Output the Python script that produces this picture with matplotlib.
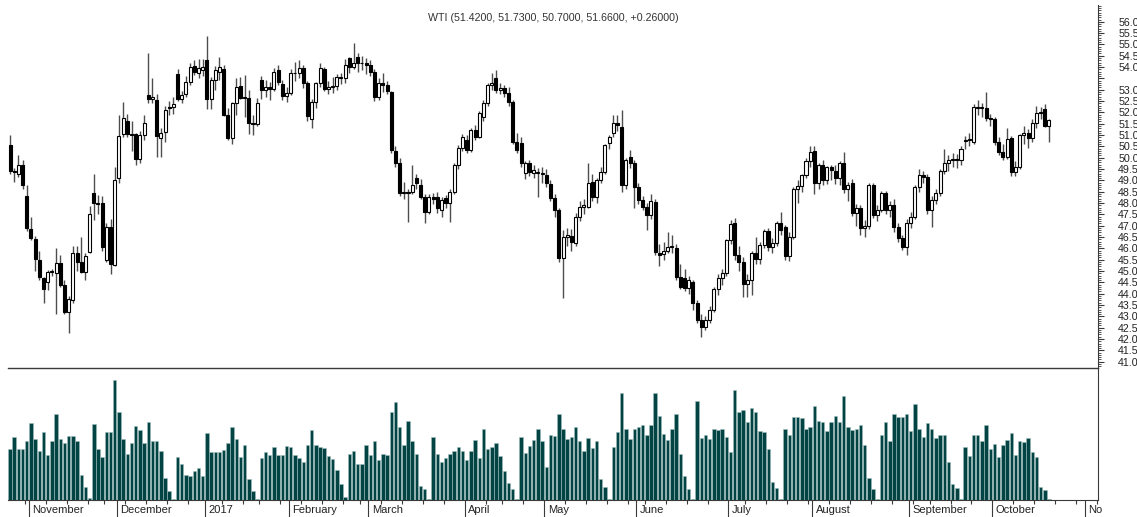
import matplotlib
matplotlib.use("Agg")

import matplotlib.pyplot as plt  # noqa: E402
import matplotlib.transforms as mtransforms  # noqa: E402
import numpy as np  # noqa: E402
import pandas as pd  # noqa: E402

plt.rcParams["font.family"] = ["Liberation Sans", "DejaVu Sans"]

# ---------------------------------------------------------------------------
# trading calendar (NYMEX holidays are skipped on the axis)
# ---------------------------------------------------------------------------
START = "2016-10-25"
AXIS_END = "2017-11-30"
HOLIDAYS = ["2016-11-24", "2016-12-26", "2017-01-02", "2017-01-16", "2017-02-20",
            "2017-04-14", "2017-05-29", "2017-07-04", "2017-09-04"]

# the last month label is cut by the chart edge in the original
month_labels = ["November", "December", "2017", "February", "March", "April", "May",
                "June", "July", "August", "September", "October", "No"]

# ---------------------------------------------------------------------------
# daily OHLC, Oct 25 2016 .. Oct 19 2017 (one row per line = one month)
# ---------------------------------------------------------------------------
opens = [
    50.55, 49.40, 49.30, 49.70, 48.30,
    46.85, 46.40, 45.50, 44.70, 44.50, 44.95, 44.90, 45.35, 44.40, 43.20, 43.70, 45.80, 45.40, 44.95, 45.85, 48.45, 48.00, 48.00, 45.50, 46.95, 45.25,
    49.10, 51.05, 51.60, 51.05, 51.05, 49.95, 51.00, 52.75, 52.60, 52.55, 50.85, 51.15, 52.25, 52.25, 53.70, 52.60, 52.80, 53.35, 54.05, 53.75, 53.85,
    54.30, 52.60, 53.45, 53.80, 53.90, 51.90, 50.85, 52.40, 53.15, 52.70, 52.62, 51.50, 51.50, 53.43, 52.99, 53.10, 53.02, 53.87, 53.25, 52.72,
    52.84, 53.72, 53.75, 53.94, 53.28, 51.69, 52.47, 53.28, 53.90, 53.02, 53.10, 53.15, 53.57, 53.50, 54.38, 54.02, 54.43, 54.16, 54.18,
    54.09, 53.80, 52.69, 53.31, 53.20, 52.90, 50.31, 49.75, 48.46, 48.50, 48.50, 49.09, 48.80, 48.28, 47.62, 48.28, 48.25, 47.69, 48.21, 47.99, 48.50, 49.68, 50.41,
    50.78, 50.34, 51.22, 50.93, 51.81, 52.40, 53.20, 53.50, 52.99, 53.06, 52.87, 52.47, 50.71, 50.63, 49.31, 49.75, 49.31, 49.31, 49.28,
    49.24, 48.84, 48.21, 47.69, 45.56, 46.52, 46.56, 46.22, 47.40, 47.84, 47.84, 48.94, 48.28, 49.02, 49.38, 50.63, 51.08, 51.52, 51.37, 48.80, 50.05, 49.75,
    48.69, 48.13, 47.84, 47.47, 48.06, 45.80, 45.75, 45.90, 46.07, 46.00, 44.75, 44.70, 44.24, 44.50, 43.60, 42.84, 42.55, 42.85, 43.30, 44.20, 44.70, 44.90,
    46.37, 47.10, 45.71, 45.40, 44.43, 44.60, 45.81, 45.52, 46.15, 46.78, 46.08, 46.25, 47.13, 46.95, 45.67, 46.52, 48.60, 48.75, 49.24, 49.87,
    50.31, 48.90, 49.68, 49.00, 49.58, 49.42, 49.09, 49.75, 48.60, 48.87, 47.58, 47.77, 46.89, 46.99, 48.80, 47.47, 47.69, 48.43, 47.69, 47.90, 46.96, 46.45, 46.08,
    47.13, 47.40, 48.70, 49.24, 49.17, 47.69, 48.14, 48.43, 49.43, 49.75, 49.90, 49.96, 49.92, 50.75, 50.78, 50.71, 52.21, 52.18, 52.18, 51.74,
    51.72, 50.71, 50.27, 50.05, 50.86, 49.39, 49.61, 51.00, 51.08, 50.86, 51.52, 51.96, 52.14, 51.42,
]
highs = [
    51.00, 49.55, 50.10, 49.90, 48.80,
    47.40, 46.55, 45.90, 44.75, 45.05, 45.10, 46.00, 45.70, 44.60, 43.90, 46.10, 46.10, 46.50, 45.80, 47.85, 49.30, 48.35, 48.30, 47.10, 47.30, 49.60,
    51.90, 52.45, 51.95, 51.60, 51.10, 51.20, 51.90, 54.60, 53.50, 52.80, 51.30, 52.30, 52.50, 52.70, 53.90, 52.95, 53.60, 54.20, 54.30, 54.35, 54.35,
    55.35, 53.55, 54.05, 54.45, 54.10, 52.20, 52.45, 53.50, 53.55, 53.65, 53.00, 51.90, 52.65, 53.60, 53.45, 53.35, 53.95, 54.10, 53.45, 53.10,
    53.90, 54.24, 54.30, 54.10, 53.40, 52.60, 53.35, 54.20, 54.00, 53.40, 53.55, 53.70, 53.75, 54.35, 54.45, 55.05, 54.60, 54.50, 54.40,
    54.30, 53.90, 53.50, 53.75, 53.40, 52.95, 50.50, 50.00, 48.95, 48.60, 49.67, 49.30, 49.05, 48.40, 48.40, 48.45, 48.50, 48.25, 48.35, 48.60, 49.75, 50.55, 51.05,
    51.00, 51.30, 51.45, 52.05, 52.55, 53.30, 53.76, 53.87, 53.30, 53.20, 53.10, 52.55, 51.10, 50.90, 49.85, 49.90, 49.70, 49.55, 49.60,
    49.50, 49.00, 48.40, 47.80, 46.80, 46.90, 46.85, 47.55, 48.10, 48.20, 49.75, 49.30, 49.10, 49.60, 50.60, 51.00, 51.90, 51.90, 52.10, 50.00, 50.35, 49.90,
    48.90, 48.30, 48.00, 48.40, 48.20, 46.20, 46.30, 46.74, 46.60, 46.20, 45.30, 45.10, 44.80, 44.60, 43.70, 43.10, 43.00, 43.45, 44.30, 44.85, 45.10, 46.40,
    47.25, 47.35, 46.10, 45.60, 44.85, 45.90, 46.50, 46.30, 46.85, 46.90, 46.45, 47.20, 47.60, 47.05, 46.70, 48.70, 49.00, 49.30, 50.00, 50.50,
    50.50, 49.75, 49.90, 49.65, 49.70, 49.70, 49.85, 50.25, 48.95, 49.05, 47.95, 47.90, 47.25, 48.90, 48.90, 47.90, 48.55, 48.55, 48.10, 48.20, 47.10, 46.60, 47.30,
    47.60, 48.80, 49.50, 49.40, 49.30, 48.30, 48.60, 49.50, 50.40, 50.10, 50.20, 50.15, 50.50, 50.95, 51.10, 52.35, 52.55, 52.40, 52.92, 51.95,
    51.80, 50.90, 50.60, 51.30, 50.95, 49.85, 51.05, 51.40, 51.25, 51.70, 52.30, 52.25, 52.35, 51.73,
]
lows = [
    49.30, 48.95, 49.15, 48.60, 46.75,
    46.35, 45.00, 44.60, 43.60, 44.15, 44.80, 43.10, 44.30, 43.10, 42.25, 43.60, 45.00, 44.90, 44.60, 45.80, 47.25, 47.50, 45.90, 45.40, 44.85, 45.20,
    48.90, 50.90, 50.90, 50.30, 49.70, 49.75, 50.80, 52.40, 52.40, 50.05, 50.05, 50.70, 51.90, 51.95, 52.50, 52.40, 52.70, 53.20, 53.65, 53.50, 53.60,
    52.15, 52.15, 53.00, 53.45, 51.85, 50.80, 50.60, 51.90, 52.60, 51.80, 51.05, 51.00, 51.40, 52.60, 52.70, 52.55, 52.95, 53.20, 52.55, 52.45,
    52.75, 53.40, 53.50, 53.06, 51.60, 51.30, 52.20, 53.10, 52.95, 52.80, 52.85, 53.00, 53.25, 53.30, 53.75, 53.90, 53.80, 53.85, 53.70,
    53.60, 52.50, 52.55, 52.90, 52.80, 50.20, 49.60, 48.30, 48.20, 47.18, 48.40, 48.60, 48.20, 47.10, 47.50, 47.95, 47.55, 47.40, 47.80, 47.15, 48.40, 49.50, 50.30,
    50.20, 50.25, 50.80, 50.85, 51.60, 52.30, 53.00, 52.85, 52.80, 52.70, 52.30, 50.60, 50.20, 49.60, 49.05, 49.20, 49.10, 48.28, 48.90,
    48.70, 48.10, 47.40, 45.40, 43.80, 46.10, 45.90, 46.10, 47.20, 47.50, 47.80, 48.10, 48.00, 48.90, 49.30, 50.40, 50.90, 51.20, 48.50, 48.60, 49.55, 47.80,
    47.95, 47.70, 46.81, 47.30, 45.70, 45.20, 45.50, 45.80, 45.80, 44.60, 44.20, 44.10, 44.00, 43.30, 42.70, 42.10, 42.40, 42.70, 43.20, 43.95, 44.40, 44.80,
    46.20, 45.50, 45.00, 43.87, 43.87, 43.95, 45.30, 45.30, 46.00, 45.90, 45.80, 46.10, 46.60, 45.50, 45.45, 46.40, 48.00, 48.50, 49.10, 49.60,
    48.40, 48.60, 48.80, 48.85, 49.00, 48.85, 48.80, 48.45, 48.10, 47.45, 47.00, 46.60, 46.50, 46.85, 47.35, 47.20, 47.60, 47.50, 47.40, 46.70, 46.30, 45.93, 45.70,
    46.90, 47.30, 48.50, 48.90, 47.50, 46.95, 47.95, 48.30, 49.30, 49.40, 49.60, 49.55, 49.70, 50.40, 50.50, 50.60, 51.90, 51.80, 51.60, 51.40,
    50.55, 50.10, 49.90, 49.95, 49.20, 49.20, 49.50, 50.60, 50.45, 50.70, 51.30, 51.70, 51.35, 50.70,
]
closes = [
    49.40, 49.35, 49.70, 48.80, 46.90,
    46.45, 45.55, 44.75, 44.20, 44.95, 45.00, 45.35, 44.40, 43.20, 43.75, 45.80, 45.40, 44.95, 45.65, 47.50, 48.00, 47.95, 46.05, 46.95, 45.30, 49.00,
    50.95, 51.75, 51.05, 51.00, 49.95, 51.00, 51.55, 52.60, 52.70, 50.95, 51.10, 52.10, 52.20, 52.35, 52.60, 52.75, 53.35, 54.00, 53.80, 53.95, 54.00,
    52.60, 53.45, 53.85, 54.00, 51.90, 50.85, 52.40, 53.10, 52.65, 52.62, 51.52, 51.55, 52.43, 52.99, 53.13, 53.02, 53.80, 53.35, 52.72, 52.87,
    53.72, 53.75, 53.94, 53.28, 51.84, 52.47, 53.28, 53.94, 53.02, 53.10, 53.15, 53.57, 53.50, 54.09, 54.02, 54.16, 54.16, 54.18, 54.09,
    53.80, 52.69, 53.31, 53.20, 52.95, 50.34, 49.75, 48.46, 48.50, 48.45, 48.80, 48.87, 48.28, 47.62, 48.28, 48.20, 47.77, 48.13, 47.99, 48.50, 49.68, 50.41, 50.93,
    50.34, 51.22, 50.93, 51.96, 52.40, 53.21, 53.28, 52.99, 53.06, 52.87, 52.47, 50.71, 50.34, 49.75, 49.75, 49.38, 49.46, 49.31, 49.33,
    48.87, 48.21, 47.69, 45.56, 46.52, 46.60, 46.30, 47.40, 47.84, 47.91, 48.87, 48.28, 49.02, 49.38, 50.56, 50.93, 51.52, 51.45, 48.80, 49.90, 49.75, 48.72,
    48.13, 47.84, 47.47, 48.10, 45.85, 45.70, 45.90, 46.07, 46.05, 44.75, 44.31, 44.24, 44.60, 43.60, 42.84, 42.55, 42.85, 43.30, 44.20, 44.70, 44.90, 46.37,
    47.06, 45.71, 45.40, 44.43, 44.60, 45.81, 45.52, 46.15, 46.78, 46.08, 46.25, 47.13, 46.81, 45.67, 46.52, 48.60, 48.75, 49.24, 49.87, 50.27,
    48.90, 49.68, 49.00, 49.58, 49.46, 49.09, 49.75, 48.60, 48.80, 47.58, 47.77, 46.89, 46.99, 48.80, 47.47, 47.69, 48.43, 47.69, 47.90, 46.96, 46.45, 46.08, 47.13,
    47.40, 48.70, 49.24, 49.17, 47.69, 48.14, 48.43, 49.43, 49.75, 49.90, 49.94, 49.92, 50.37, 50.78, 50.80, 52.22, 52.21, 52.22, 51.74, 51.70,
    50.71, 50.27, 50.05, 50.81, 49.39, 49.60, 51.00, 51.08, 50.86, 51.52, 51.96, 52.03, 51.40, 51.66,
]
# front-month volume, relative units (0..100 = panel height)
volumes = [
    38.5, 47.5, 38.5, 38.5, 45,
    58, 46, 37, 51.5, 34, 45, 65, 46, 43.5, 48.5, 48.5, 44.5, 19, 10, 1.5, 57.5, 39, 32.5, 51.5, 51.5, 91,
    67, 46, 35, 43, 56, 53, 43.5, 59, 44.5, 44.5, 37, 17, 7, 0.5, 32.5, 27, 19, 18.5, 22, 24, 18.5,
    51, 36, 36.5, 36, 38, 43, 55.5, 46, 32.5, 41.5, 16, 7, 1, 32, 36.5, 34, 40, 34, 34, 41,
    40, 34, 32, 29, 42, 53, 41.5, 40, 39.5, 33, 31, 23, 12.5, 2, 35, 37, 27, 27, 42,
    34, 45, 30.5, 35, 34, 67, 74.5, 55, 42, 59.5, 44.5, 35, 10.5, 8.5, 0.5, 47.5, 35, 29, 32, 35, 37.5, 40, 37,
    30.5, 37, 45.5, 32, 54, 38.5, 40, 43.5, 33, 22, 13, 8, 1, 48, 35.5, 41, 45.5, 54, 44.5,
    25, 49, 48.5, 65, 53.5, 46.5, 47.5, 55.5, 44.5, 37, 47, 39.5, 44.5, 16, 9.5, 1, 40, 51.5, 81, 53.5, 46, 54,
    55, 57, 49.5, 57, 81, 63.5, 50, 45.5, 54, 65, 34.5, 18, 8, 1, 75, 47, 49, 46, 53.5, 53, 54, 48,
    36.5, 83, 67, 68, 59, 70, 67, 52, 51.5, 38.5, 14, 9, 1, 53.5, 49.5, 63, 63, 62, 54, 55,
    71.5, 59.5, 59, 52, 59, 64, 59, 79, 55, 53, 53.5, 57, 42, 17, 8, 1, 49.5, 59, 45, 65, 63, 63, 65,
    52, 73, 54, 48, 58, 53.5, 47, 49, 49, 29, 12.5, 9, 1, 40, 33, 49, 49.5, 44.5, 57, 39,
    42.5, 32.5, 42, 45.5, 51, 34, 45, 44, 47, 36, 32.5, 10, 7.5, 1,
]

# ---------------------------------------------------------------------------
UP_FACE = "white"
DOWN_FACE = "black"
WICK = "#4d4d4d"
VOL_FACE = "#024444"
VOL_EDGE = "#9dbdbd"
AXIS_COL = "#3a3a3a"
TEXT_COL = "#222222"
XLIM = (-0.48, 259.7)

o = np.array(opens)
h = np.array(highs)
lo = np.array(lows)
c = np.array(closes)
v = np.array(volumes)
n = len(c)
assert len(o) == len(h) == len(lo) == len(v) == n

days = pd.bdate_range(START, AXIS_END, freq="C", holidays=HOLIDAYS)
x = np.arange(n)

# month and week boundaries (tick sits between two trading days)
month_start = [i for i in range(1, len(days))
               if days[i].month != days[i - 1].month and i - 0.5 < XLIM[1]]
week_start = [i for i in range(1, len(days))
              if days[i].isocalendar()[1] != days[i - 1].isocalendar()[1]
              and i - 0.5 < XLIM[1]]

fig = plt.figure(figsize=(11.37, 5.17), dpi=100)
W, H = 1137.0, 517.0
ax = fig.add_axes([8 / W, 149 / H, 1090 / W, 363 / H])
axv = fig.add_axes([8 / W, 17 / H, 1090 / W, 132 / H], sharex=ax)
axv.patch.set_visible(False)  # keep the price panel's bottom rule fully visible

# --- candles ---
ax.vlines(x, lo, h, color=WICK, lw=1.0, zorder=1)
up = c >= o
body_lo = np.minimum(o, c)
body_h = np.maximum(np.abs(c - o), 0.04)
ax.bar(x[up], body_h[up], bottom=body_lo[up], width=0.72, color=UP_FACE,
       edgecolor="black", linewidth=0.8, zorder=2)
ax.bar(x[~up], body_h[~up], bottom=body_lo[~up], width=0.72, color=DOWN_FACE,
       edgecolor="black", linewidth=0.8, zorder=2)

ax.set_ylim(40.72, 56.74)

ax.yaxis.tick_right()
major = np.arange(41.0, 56.01, 0.5)
ax.set_yticks(major)
ax.set_yticklabels(["" if abs(t - 53.5) < 1e-6 else f"{t:.1f}" for t in major])
ax.set_yticks(np.arange(40.8, 56.75, 0.1), minor=True)
ax.tick_params(axis="y", which="major", direction="out", length=4.5, width=0.8,
               color=AXIS_COL, pad=10, labelsize=7.7, labelcolor=TEXT_COL)
ax.tick_params(axis="y", which="minor", direction="out", length=2.2, width=0.6,
               color=AXIS_COL)
ax.tick_params(axis="x", which="both", bottom=False, labelbottom=False)
for side in ("left", "top"):
    ax.spines[side].set_visible(False)
ax.spines["right"].set_color(AXIS_COL)
ax.spines["bottom"].set_color(AXIS_COL)
ax.spines["bottom"].set_linewidth(1.0)

prev = c[-2]
title = f"WTI ({o[-1]:.4f}, {h[-1]:.4f}, {lo[-1]:.4f}, {c[-1]:.4f}, {c[-1] - prev:+.5f})"
ax.text(0.5, 1 - 13 / 363, title, transform=ax.transAxes, ha="center", va="center",
        fontsize=7.7, color="#333333")

# --- volume ---
axv.bar(x, v, width=0.82, color=VOL_FACE, edgecolor=VOL_EDGE, linewidth=0.4)
axv.set_ylim(0, 100)
axv.set_yticks([])
axv.spines["left"].set_visible(False)
axv.spines["top"].set_visible(False)
axv.spines["right"].set_color(AXIS_COL)
axv.spines["bottom"].set_color(AXIS_COL)

axv.set_xticks([i - 0.5 for i in month_start])
axv.set_xticklabels([])
axv.set_xticks([i - 0.5 for i in week_start], minor=True)
axv.tick_params(axis="x", which="major", direction="out", length=13, width=0.8,
                color=AXIS_COL)
axv.tick_params(axis="x", which="minor", direction="out", length=3, width=0.8,
                color=AXIS_COL)

# ticks can widen the view, so fix the range afterwards
ax.set_xlim(*XLIM)

trans = mtransforms.blended_transform_factory(axv.transData, axv.transAxes)
off = mtransforms.ScaledTranslation(2.5 / 72, 0, fig.dpi_scale_trans)
for pos, label in zip(month_start, month_labels):
    axv.text(pos - 0.5, -0.035, label, transform=trans + off, ha="left", va="top",
             fontsize=8, color=TEXT_COL)

fig.savefig("out.png", dpi=100)
